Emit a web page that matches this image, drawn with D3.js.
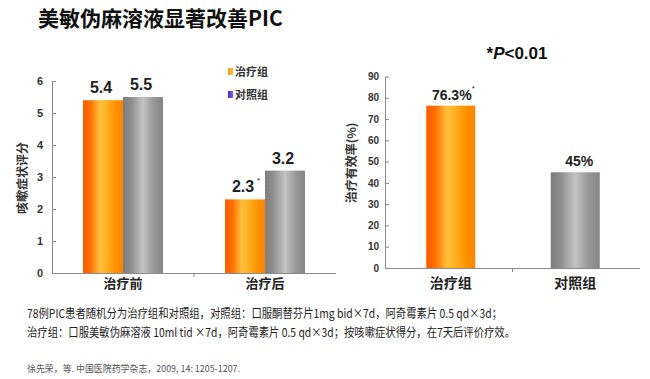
<!DOCTYPE html>
<html><head><meta charset="utf-8">
<script src="https://cdn.jsdelivr.net/npm/d3@7"></script>
<style>
html,body{margin:0;padding:0;background:#fff;}
svg{display:block;}
</style></head>
<body>
<svg id="c" width="650" height="379"></svg>
<script>
// ---- data ----
const leftCategories = ["治疗前", "治疗后"];
const leftSeries = ["治疗组", "对照组"];
const treatValues = [5.4, 2.3];
const controlValues = [5.5, 3.2];
const leftTicks = [0, 1, 2, 3, 4, 5, 6];
const rightCategories = ["治疗组", "对照组"];
const rightValues = [76.3, 45];
const rightLabels = ["76.3%", "45%"];
const rightTicks = [0, 10, 20, 30, 40, 50, 60, 70, 80, 90];

const svg = d3.select("#c");
const CJK = "'Noto Sans CJK SC', sans-serif";
const NUM = "'Liberation Sans', Arial, 'Noto Sans CJK SC', sans-serif";

// gradients
const defs = svg.append("defs");
function grad(id, stops) {
  const g = defs.append("linearGradient").attr("id", id).attr("x1", "0").attr("x2", "1").attr("y1", "0").attr("y2", "0");
  stops.forEach(s => g.append("stop").attr("offset", s[0]).attr("stop-color", s[1]));
}
grad("gOrange", [["0%", "#ff5c00"], ["18%", "#ff6e00"], ["42%", "#ffbf3c"], ["58%", "#ffb224"], ["80%", "#ff9400"], ["100%", "#ff8400"]]);
grad("gGray", [["0%", "#7c7c7c"], ["20%", "#8e8e8e"], ["50%", "#c4c4c4"], ["75%", "#9a9a9a"], ["100%", "#858585"]]);
grad("gLegO", [["0%", "#f59a10"], ["100%", "#fbc040"]]);
grad("gLegP", [["0%", "#4a2fc8"], ["100%", "#7a5cf0"]]);

// title
svg.append("text").attr("x", 38).attr("y", 26).attr("font-family", CJK).attr("font-weight", "bold")
  .attr("font-size", 21).attr("fill", "#111").text("美敏伪麻溶液显著改善PIC");

// ---------- LEFT CHART ----------
const L = {x0: 52, x1: 336, y0: 273, y1: 81};
const yL = d3.scaleLinear().domain([0, 6]).range([L.y0, L.y1]);
const xL = d3.scaleBand().domain(leftCategories).range([L.x0, L.x1]).padding(0);
const groupW = 80;
const xLs = d3.scaleBand().domain(leftSeries).range([0, groupW]);

const gL = svg.append("g");
const yAxisL = d3.axisLeft(yL).tickValues(leftTicks).tickSizeInner(-4).tickSizeOuter(0).tickPadding(9).tickFormat(d3.format("d"));
const ya = gL.append("g").attr("transform", `translate(${L.x0},0)`).call(yAxisL);
ya.select(".domain").attr("stroke", "#8a8a8a");
ya.selectAll(".tick line").attr("stroke", "#8a8a8a");
ya.selectAll("text").attr("font-family", NUM).attr("font-weight", "bold").attr("font-size", 11).attr("fill", "#333");
// x axis
gL.append("line").attr("x1", L.x0).attr("x2", L.x1).attr("y1", L.y0 + 0.5).attr("y2", L.y0 + 0.5).attr("stroke", "#8a8a8a");
gL.append("line").attr("x1", xL(leftCategories[1])).attr("x2", xL(leftCategories[1])).attr("y1", L.y0).attr("y2", L.y0 + 4).attr("stroke", "#8a8a8a");

leftCategories.forEach((c, i) => {
  const gx = xL(c) + (xL.bandwidth() - groupW) / 2;
  const vals = [treatValues[i], controlValues[i]];
  vals.forEach((v, j) => {
    const bx = gx + xLs(leftSeries[j]);
    gL.append("rect").attr("x", bx).attr("y", yL(v)).attr("width", xLs.bandwidth()).attr("height", yL(0) - yL(v))
      .attr("fill", j === 0 ? "url(#gOrange)" : "url(#gGray)");
    gL.append("text").attr("x", bx + xLs.bandwidth() / 2 - 2).attr("y", yL(v) - 7).attr("text-anchor", "middle")
      .attr("font-family", NUM).attr("font-weight", "bold").attr("font-size", 16).attr("fill", "#222").text(d3.format(".1f")(v));
    if (i === 1 && j === 0) {
      gL.append("text").attr("x", bx + xLs.bandwidth() / 2 + 12).attr("y", yL(v) - 16)
        .attr("font-family", NUM).attr("font-size", 8).attr("fill", "#333").text("*");
    }
  });
  gL.append("text").attr("x", xL(c) + xL.bandwidth() / 2).attr("y", 288).attr("text-anchor", "middle")
    .attr("font-family", CJK).attr("font-weight", "bold").attr("font-size", 13).attr("fill", "#222").text(c);
});
// y title
gL.append("text").attr("transform", `translate(27,178) rotate(-90)`).attr("text-anchor", "middle")
  .attr("font-family", CJK).attr("font-weight", "bold").attr("font-size", 12).attr("fill", "#333").text("咳嗽症状评分");
// legend
const legFills = ["url(#gLegO)", "url(#gLegP)"];
leftSeries.forEach((s, i) => {
  const ly = 72 + i * 23;
  gL.append("rect").attr("x", 228).attr("y", ly - 4).attr("width", 5).attr("height", 7).attr("fill", legFills[i]);
  gL.append("text").attr("x", 235).attr("y", ly + 4).attr("font-family", CJK).attr("font-weight", "bold")
    .attr("font-size", 11).attr("fill", "#333").text(s);
});

// ---------- RIGHT CHART ----------
const R = {x0: 385, x1: 640, y0: 268, y1: 76.5};
const yR = d3.scaleLinear().domain([0, 90]).range([R.y0, R.y1]);
const xR = d3.scaleBand().domain(rightCategories).range([R.x0, R.x1]).padding(0);
const gR = svg.append("g");
const yAxisR = d3.axisLeft(yR).tickValues(rightTicks).tickSizeInner(-4).tickSizeOuter(0).tickPadding(6);
const yb = gR.append("g").attr("transform", `translate(${R.x0},0)`).call(yAxisR);
yb.select(".domain").attr("stroke", "#8a8a8a");
yb.selectAll(".tick line").attr("stroke", "#8a8a8a");
yb.selectAll("text").attr("font-family", NUM).attr("font-weight", "bold").attr("font-size", 10).attr("fill", "#333");
gR.append("line").attr("x1", R.x0).attr("x2", R.x1).attr("y1", R.y0 + 0.5).attr("y2", R.y0 + 0.5).attr("stroke", "#8a8a8a");
gR.append("line").attr("x1", xR(rightCategories[1])).attr("x2", xR(rightCategories[1])).attr("y1", R.y0).attr("y2", R.y0 + 4).attr("stroke", "#8a8a8a");
const barW = 49;
rightCategories.forEach((c, i) => {
  const cx = xR(c) + xR.bandwidth() / 2 + (i === 0 ? 2 : -1);
  const v = rightValues[i];
  gR.append("rect").attr("x", cx - barW / 2).attr("y", yR(v)).attr("width", barW).attr("height", yR(0) - yR(v))
    .attr("fill", i === 0 ? "url(#gOrange)" : "url(#gGray)");
  gR.append("text").attr("x", cx + (i === 0 ? 1 : 4)).attr("y", yR(v) - 6).attr("text-anchor", "middle")
    .attr("font-family", NUM).attr("font-weight", "bold").attr("font-size", 14).attr("fill", "#222").text(rightLabels[i]);
  if (i === 0) {
    gR.append("text").attr("x", cx + 21).attr("y", yR(v) - 15).attr("font-family", NUM).attr("font-size", 8).attr("fill", "#333").text("*");
  }
  gR.append("text").attr("x", cx).attr("y", 288).attr("text-anchor", "middle")
    .attr("font-family", CJK).attr("font-weight", "bold").attr("font-size", 14).attr("fill", "#222").text(c);
});
gR.append("text").attr("transform", `translate(356,163) rotate(-90)`).attr("text-anchor", "middle")
  .attr("font-family", CJK).attr("font-weight", "bold").attr("font-size", 12).attr("fill", "#333").text("治疗有效率(%)");
// p-value note
const pv = gR.append("text").attr("x", 517).attr("y", 59).attr("text-anchor", "middle")
  .attr("font-family", NUM).attr("font-weight", "bold").attr("font-size", 17).attr("fill", "#111");
pv.append("tspan").text("*");
pv.append("tspan").attr("font-style", "italic").text("P");
pv.append("tspan").text("<0.01");

// ---------- notes ----------
const noteFont = "'Noto Sans CJK SC', sans-serif";
svg.append("text").attr("x", 27).attr("y", 318).attr("font-family", noteFont).attr("font-size", 12).attr("fill", "#222")
  .attr("textLength", 475).attr("lengthAdjust", "spacingAndGlyphs")
  .text("78例PIC患者随机分为治疗组和对照组，对照组：口服酮替芬片1mg bid×7d，阿奇霉素片 0.5 qd×3d；");
svg.append("text").attr("x", 27).attr("y", 337).attr("font-family", noteFont).attr("font-size", 12).attr("fill", "#222")
  .attr("textLength", 488).attr("lengthAdjust", "spacingAndGlyphs")
  .text("治疗组：口服美敏伪麻溶液 10ml tid ×7d，阿奇霉素片 0.5 qd×3d；按咳嗽症状得分，在7天后评价疗效。");
svg.append("text").attr("x", 27).attr("y", 372).attr("font-family", noteFont).attr("font-size", 9.5).attr("fill", "#555")
  .attr("textLength", 213).attr("lengthAdjust", "spacingAndGlyphs")
  .text("徐先荣，等. 中国医院药学杂志，2009, 14: 1205-1207.");
</script>
</body></html>
